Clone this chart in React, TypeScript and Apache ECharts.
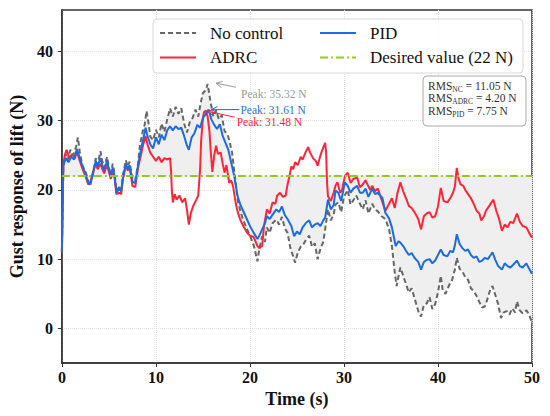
import React, { useEffect, useRef } from "react";
import * as echarts from "echarts";

const DESIRED = 22;
const X_TICKS = [0, 10, 20, 30, 40, 50];
const Y_TICKS = [0, 10, 20, 30, 40];

const NO_CONTROL: [number, number][] = [
  [0, 11], [0.15, 23.5], [0.4, 25.2], [0.6, 24.3], [0.9, 25.8], [1.2, 25], [1.5, 26.2], [1.7, 27.6], [1.9, 25.5],
  [2.2, 23.4], [2.5, 22.8], [2.8, 21.2], [3.0, 20.6], [3.3, 22.4], [3.6, 24.6], [3.8, 23.6], [4.1, 25.6], [4.3, 24.2],
  [4.5, 23.2], [4.8, 24.8], [5.0, 23.3], [5.2, 22.1], [5.4, 23.8], [5.6, 22.4], [5.8, 19.9], [6.1, 20.4], [6.3, 19.8],
  [6.5, 22.2], [6.8, 24.3], [7.0, 23.4], [7.2, 24.1], [7.5, 21.6], [7.8, 21.3], [8.1, 23.8], [8.3, 26.5], [8.6, 28.5],
  [8.8, 29.4], [9.0, 31.4], [9.2, 29.8], [9.4, 27.7], [9.7, 27.2], [10.0, 28.7], [10.3, 27.6], [10.6, 29.6], [10.9, 28.4],
  [11.2, 30.2], [11.5, 31.8], [11.8, 30.6], [12.1, 32.0], [12.4, 31.0], [12.7, 31.8], [13.0, 29.6], [13.3, 28.3], [13.6, 29.8],
  [13.9, 30.4], [14.2, 31.6], [14.5, 30.6], [14.8, 32.8], [15.0, 34.0], [15.3, 34.4], [15.5, 35.32], [15.7, 33.6], [15.9, 32.1],
  [16.1, 30.6], [16.4, 31.5], [16.7, 30.2], [17.0, 30.8], [17.3, 28.5], [17.6, 28.1], [17.8, 27.2], [18.1, 25.4], [18.4, 22.0],
  [18.7, 18.5], [19.0, 16.8], [19.3, 15.6], [19.7, 14.3], [20.0, 13.4], [20.4, 12.0], [20.8, 9.7], [21.0, 11.5], [21.3, 13.3],
  [21.6, 12.5], [21.8, 14.6], [22.1, 13.8], [22.4, 15.2], [22.8, 15.7], [23.1, 15.0], [23.4, 16.1], [23.7, 14.5], [24.0, 13.8],
  [24.3, 11.6], [24.6, 10.4], [24.8, 9.5], [25.1, 11.0], [25.4, 11.8], [25.7, 12.2], [26.0, 12.9], [26.3, 13.4], [26.6, 11.8],
  [26.9, 12.3], [27.2, 10.0], [27.5, 11.5], [27.8, 12.5], [28.0, 14.3], [28.3, 17.2], [28.6, 15.6], [28.9, 16.4], [29.1, 17.9],
  [29.4, 18.2], [29.7, 16.8], [30.0, 19.0], [30.4, 20.0], [30.7, 17.9], [31.0, 18.5], [31.3, 19.2], [31.7, 18.0], [32.0, 17.2],
  [32.3, 18.5], [32.6, 16.6], [33.0, 18.0], [33.3, 17.2], [33.6, 16.9], [34.0, 16.2], [34.4, 15.8], [34.8, 14.3], [35.1, 11.9],
  [35.4, 8.1], [35.6, 6.1], [35.8, 7.5], [36.0, 8.8], [36.3, 7.6], [36.6, 6.4], [36.9, 5.2], [37.2, 5.8], [37.5, 4.4],
  [37.9, 2.5], [38.2, 1.7], [38.5, 3.4], [38.8, 3.6], [39.1, 4.5], [39.4, 2.8], [39.7, 3.5], [40.0, 5.2], [40.3, 7.6],
  [40.5, 5.5], [40.8, 5.0], [41.2, 6.3], [41.5, 7.0], [41.8, 8.5], [42.0, 10.2], [42.3, 8.6], [42.6, 8.2], [42.9, 7.4],
  [43.2, 7.0], [43.5, 5.8], [43.8, 5.4], [44.1, 4.7], [44.4, 3.8], [44.7, 3.0], [45.0, 3.2], [45.3, 4.4], [45.6, 5.8],
  [45.8, 6.1], [46.1, 4.8], [46.4, 3.5], [46.7, 1.5], [47.0, 2.3], [47.3, 2.5], [47.6, 2.0], [47.9, 2.9], [48.2, 2.3],
  [48.4, 3.9], [48.7, 2.6], [49.0, 2.2], [49.4, 2.6], [49.7, 2.0], [50.0, 0.8],
];

const PID: [number, number][] = [
  [0, 11], [0.15, 23.5], [0.4, 24.6], [0.7, 24.0], [1.0, 24.8], [1.3, 24.4], [1.6, 25.9], [1.9, 24.6], [2.2, 23.4],
  [2.5, 22.4], [2.8, 21.0], [3.0, 20.8], [3.3, 22.2], [3.6, 24.2], [3.8, 23.4], [4.1, 24.6], [4.3, 23.6], [4.5, 22.8],
  [4.8, 24.2], [5.0, 23.0], [5.2, 22.0], [5.4, 23.2], [5.6, 22.0], [5.8, 19.6], [6.1, 20.2], [6.3, 19.8], [6.5, 21.8],
  [6.8, 23.8], [7.0, 23.0], [7.2, 23.6], [7.5, 21.2], [7.8, 21.0], [8.1, 23.6], [8.4, 25.8], [8.6, 27.0], [8.9, 29.0],
  [9.1, 27.8], [9.4, 26.6], [9.7, 26.0], [10.0, 27.6], [10.3, 26.6], [10.6, 28.0], [10.9, 27.2], [11.2, 28.6], [11.5, 29.2],
  [11.8, 28.6], [12.1, 29.2], [12.4, 28.8], [12.7, 29.0], [13.0, 27.8], [13.3, 26.4], [13.5, 25.8], [13.8, 27.6], [14.1, 28.2],
  [14.4, 29.4], [14.7, 29.0], [15.0, 30.4], [15.3, 31.0], [15.6, 31.61], [15.9, 30.2], [16.2, 29.4], [16.5, 28.8], [16.8, 29.5],
  [17.1, 27.8], [17.4, 26.8], [17.7, 25.8], [18.0, 24.0], [18.3, 22.2], [18.7, 19.0], [19.0, 17.8], [19.4, 16.6], [19.7, 15.7],
  [20.0, 14.8], [20.4, 13.8], [20.8, 12.9], [21.0, 13.4], [21.3, 14.3], [21.6, 15.2], [21.8, 16.2], [22.1, 15.8], [22.4, 16.4],
  [22.8, 17.2], [23.1, 16.8], [23.4, 17.6], [23.7, 16.4], [24.0, 15.8], [24.4, 14.8], [24.7, 13.3], [25.0, 14.0], [25.3, 13.6],
  [25.6, 14.6], [26.0, 15.3], [26.3, 15.6], [26.6, 14.6], [26.9, 15.0], [27.2, 15.2], [27.5, 14.8], [27.8, 15.6], [28.0, 16.0],
  [28.3, 18.6], [28.6, 17.2], [28.9, 17.8], [29.1, 19.9], [29.4, 19.6], [29.7, 18.4], [30.1, 21.1], [30.4, 20.6], [30.7, 19.6],
  [31.0, 20.2], [31.4, 20.6], [31.7, 19.6], [32.0, 19.6], [32.3, 20.2], [32.6, 19.0], [33.0, 20.2], [33.3, 19.4], [33.6, 19.6],
  [34.1, 18.8], [34.4, 16.7], [34.8, 15.9], [35.1, 14.6], [35.5, 11.9], [35.8, 12.6], [36.0, 12.4], [36.3, 11.9], [36.6, 11.2],
  [36.9, 10.6], [37.2, 10.9], [37.5, 10.2], [37.9, 9.6], [38.2, 8.5], [38.5, 9.6], [38.8, 9.9], [39.1, 10.0], [39.4, 9.4],
  [39.7, 9.8], [40.0, 10.6], [40.3, 11.4], [40.6, 10.6], [41.0, 10.4], [41.3, 11.2], [41.6, 11.0], [41.8, 12.0], [42.0, 13.6],
  [42.3, 12.2], [42.6, 11.6], [42.9, 11.2], [43.2, 11.4], [43.5, 10.6], [43.8, 10.2], [44.1, 10.4], [44.4, 9.6], [44.7, 9.8],
  [45.0, 10.2], [45.3, 10.0], [45.6, 10.6], [45.8, 11.0], [46.1, 9.9], [46.4, 9.0], [46.8, 8.5], [47.1, 9.4], [47.4, 9.0],
  [47.7, 8.8], [48.0, 9.2], [48.4, 9.8], [48.7, 9.0], [49.0, 8.8], [49.4, 9.4], [49.7, 8.6], [50.0, 7.9],
];

const ADRC: [number, number][] = [
  [0, 11], [0.15, 23.5], [0.3, 25.0], [0.5, 25.8], [0.8, 24.6], [1.1, 25.2], [1.4, 24.6], [1.6, 25.6], [1.9, 24.2],
  [2.2, 23.0], [2.5, 22.0], [2.8, 20.8], [3.0, 21.0], [3.3, 22.6], [3.6, 23.8], [3.8, 23.0], [4.1, 23.8], [4.3, 23.0],
  [4.5, 22.4], [4.8, 23.6], [5.0, 22.6], [5.2, 21.6], [5.4, 22.6], [5.6, 21.8], [5.8, 19.4], [6.1, 19.6], [6.3, 19.4],
  [6.5, 21.6], [6.8, 23.6], [7.0, 22.8], [7.2, 23.4], [7.5, 20.6], [7.8, 20.4], [8.1, 23.2], [8.4, 25.0], [8.6, 26.3],
  [8.9, 27.8], [9.1, 26.6], [9.4, 25.4], [9.7, 24.8], [10.0, 24.2], [10.3, 24.8], [10.6, 24.0], [10.9, 24.6], [11.2, 24.4],
  [11.5, 24.6], [11.6, 23.0], [11.7, 19.8], [11.8, 18.2], [12.0, 19.4], [12.2, 18.6], [12.5, 19.2], [12.8, 18.2], [13.1, 18.8],
  [13.3, 17.2], [13.5, 15.0], [13.7, 16.6], [14.0, 17.8], [14.3, 18.6], [14.5, 19.2], [14.7, 23.0], [14.8, 26.9], [15.0, 30.4],
  [15.1, 31.2], [15.3, 31.48], [15.5, 30.6], [15.7, 28.4], [15.8, 26.1], [16.0, 22.6], [16.2, 25.0], [16.4, 26.4], [16.6, 25.2],
  [16.9, 25.4], [17.1, 23.8], [17.3, 22.5], [17.5, 23.6], [17.8, 21.0], [18.0, 21.4], [18.2, 20.6], [18.5, 18.0], [18.7, 16.8],
  [19.0, 15.6], [19.3, 14.8], [19.7, 13.8], [20.0, 13.4], [20.4, 13.2], [20.8, 11.9], [21.0, 11.6], [21.3, 11.9], [21.5, 14.8],
  [21.8, 17.2], [22.1, 16.6], [22.4, 18.2], [22.7, 18.0], [22.9, 19.2], [23.2, 19.6], [23.5, 19.0], [23.8, 19.2], [24.0, 20.8],
  [24.2, 22.0], [24.4, 23.4], [24.6, 23.0], [24.8, 24.0], [25.1, 23.6], [25.4, 24.8], [25.6, 24.4], [25.9, 25.4], [26.2, 26.2],
  [26.4, 25.4], [26.7, 24.6], [27.0, 24.2], [27.2, 23.5], [27.5, 25.0], [27.7, 25.8], [28.0, 26.8], [28.1, 25.5], [28.2, 21.0],
  [28.3, 19.1], [28.6, 18.4], [28.9, 19.6], [29.1, 20.6], [29.3, 21.1], [29.6, 19.6], [29.8, 20.0], [30.1, 22.0], [30.4, 22.5],
  [30.7, 21.0], [31.0, 21.6], [31.4, 21.8], [31.7, 20.4], [32.0, 20.8], [32.3, 21.4], [32.5, 20.8], [32.8, 20.0], [33.0, 20.6],
  [33.3, 19.8], [33.6, 20.2], [34.1, 18.2], [34.4, 17.0], [34.8, 18.0], [35.1, 18.8], [35.4, 17.4], [35.7, 19.6], [36.0, 21.1],
  [36.3, 19.8], [36.6, 18.8], [36.9, 17.7], [37.2, 17.4], [37.5, 16.8], [37.9, 15.8], [38.2, 14.3], [38.5, 16.2], [38.8, 16.6],
  [39.1, 16.8], [39.4, 16.0], [39.7, 16.2], [40.0, 17.6], [40.3, 20.3], [40.6, 18.4], [41.0, 18.2], [41.3, 18.8], [41.6, 19.6],
  [41.8, 20.5], [42.0, 23.2], [42.2, 21.6], [42.4, 20.8], [42.7, 20.6], [42.9, 20.0], [43.2, 19.4], [43.5, 18.8], [43.8, 18.0],
  [44.1, 17.0], [44.4, 16.6], [44.6, 15.6], [44.9, 16.2], [45.1, 17.0], [45.4, 17.6], [45.7, 18.2], [45.9, 18.6], [46.2, 17.0],
  [46.5, 15.8], [46.8, 14.1], [47.1, 15.0], [47.4, 14.6], [47.7, 15.4], [48.0, 15.2], [48.4, 16.6], [48.7, 15.4], [49.0, 14.8],
  [49.4, 14.6], [49.7, 13.8], [50.0, 13.1],
];

const RMS_LABELS = ["NC", "ADRC", "PID"];
const RMS_VALUES = ["11.05", "4.20", "7.75"];
const PEAK_TEXTS = ["35.32", "31.61", "31.48"];

const SERIF = "Liberation Serif, serif";
const C_NC = "#666666";
const C_ADRC = "#ff2436";
const C_PID = "#1c6be0";
const C_DES = "#8fcc2a";

export default function App() {
  const ref = useRef<HTMLDivElement>(null);
  useEffect(() => {
    const chart = echarts.init(ref.current!, null, { renderer: "svg" });
    const lineCommon = { type: "line", showSymbol: false, symbol: "none", silent: true };
    chart.setOption({
      animation: false,
      grid: { left: 56, right: 18, top: 10, bottom: 53, show: true, borderColor: "#333", borderWidth: 1.5 },
      xAxis: {
        type: "value", min: X_TICKS[0], max: X_TICKS[X_TICKS.length - 1], interval: 10,
        name: "Time (s)", nameLocation: "middle", nameGap: 26,
        nameTextStyle: { fontFamily: SERIF, fontWeight: "bold", fontSize: 18, color: "#111" },
        axisLine: { show: true, onZero: false, lineStyle: { color: "#333", width: 1.5 } },
        axisTick: { show: true, inside: false, length: 4, lineStyle: { color: "#333" } },
        axisLabel: { fontFamily: SERIF, fontWeight: "bold", fontSize: 16, color: "#111", margin: 6 },
        splitLine: { show: true, lineStyle: { color: "#dedede", type: "dotted", width: 1 } },
      },
      yAxis: {
        type: "value", min: -5, max: 46,
        name: "Gust response of lift (N)", nameLocation: "middle", nameGap: 31,
        nameTextStyle: { fontFamily: SERIF, fontWeight: "bold", fontSize: 18, color: "#111" },
        axisLine: { show: true, onZero: false, lineStyle: { color: "#333", width: 1.5 } },
        axisTick: { show: true, inside: false, length: 4, lineStyle: { color: "#333" }, customValues: Y_TICKS },
        axisLabel: { fontFamily: SERIF, fontWeight: "bold", fontSize: 16, color: "#111", margin: 9, customValues: Y_TICKS },
        splitLine: { show: true, lineStyle: { color: "#dedede", type: "dotted", width: 1 } },
      },
      series: [
        {
          type: "custom", name: "fill", silent: true, z: 1, clip: true,
          data: [[0, DESIRED]],
          renderItem: (_params: any, api: any) => {
            const pts = NO_CONTROL.map(([t, v]) => api.coord([t, v]));
            pts.push(api.coord([NO_CONTROL[NO_CONTROL.length - 1][0], DESIRED]), api.coord([NO_CONTROL[0][0], DESIRED]));
            return { type: "polygon", shape: { points: pts }, style: { fill: "#efefef" } };
          },
        },
        { ...lineCommon, name: "No control", data: NO_CONTROL, lineStyle: { color: C_NC, width: 2, type: [5, 3] }, z: 2 },
        { ...lineCommon, name: "ADRC", data: ADRC, lineStyle: { color: C_ADRC, width: 2 }, z: 3 },
        { ...lineCommon, name: "PID", data: PID, lineStyle: { color: C_PID, width: 2 }, z: 4 },
        { ...lineCommon, name: "Desired value (22 N)", data: [[0, DESIRED], [50, DESIRED]], lineStyle: { color: C_DES, width: 2, type: [8, 3, 2, 3] }, z: 5 },
      ],
    });

    const px = (t: number, v: number) => chart.convertToPixel({ gridIndex: 0 }, [t, v]) as number[];
    const peakOf = (arr: [number, number][]) => arr.reduce((a, b) => (b[1] > a[1] ? b : a));
    const pNC = peakOf(NO_CONTROL), pPID = peakOf(PID), pADRC = peakOf(ADRC);

    const arrow = (tail: number[], head: number[], color: string) => {
      const dx = head[0] - tail[0], dy = head[1] - tail[1];
      const L = Math.hypot(dx, dy) || 1;
      const ux = dx / L, uy = dy / L, nx = -uy, ny = ux;
      return [
        { type: "line", shape: { x1: tail[0], y1: tail[1], x2: head[0], y2: head[1] }, style: { stroke: color, lineWidth: 1 }, z: 10 },
        { type: "polyline", shape: { points: [[head[0] - 6 * ux + 3 * nx, head[1] - 6 * uy + 3 * ny], head, [head[0] - 6 * ux - 3 * nx, head[1] - 6 * uy - 3 * ny]] }, style: { stroke: color, lineWidth: 1, fill: null }, z: 10 },
      ];
    };
    const hNC = px(pNC[0] + 0.9, pNC[1] + 0.1);
    const hPID = px(pPID[0] + 0.3, pPID[1]);
    const hADRC = px(pADRC[0] + 0.2, pADRC[1] - 0.1);
    const tNC = [hNC[0] + 20, hNC[1] + 4];
    const tPID = [hPID[0] + 28, hPID[1]];
    const tADRC = [hADRC[0] + 27, hADRC[1] + 6];

    const peakText = (x: number, y: number, text: string, color: string) => ({
      type: "text", x, y, z: 11,
      style: { text, fill: color, font: `11.5px ${SERIF}`, textVerticalAlign: "middle", textAlign: "left" },
    });

    const legendItems = [
      { label: "No control", color: C_NC, dash: [5, 3], x: 160, y: 33 },
      { label: "ADRC", color: C_ADRC, dash: null, x: 160, y: 57.5 },
      { label: "PID", color: C_PID, dash: null, x: 320, y: 33 },
      { label: "Desired value (22 N)", color: C_DES, dash: [8, 3, 2, 3], x: 320, y: 57.5 },
    ];
    const legend: any[] = [
      { type: "rect", shape: { x: 153, y: 19, width: 370, height: 54, r: 4 }, style: { fill: "rgba(255,255,255,0.85)", stroke: "#d8d8d8", lineWidth: 1 }, z: 20 },
    ];
    legendItems.forEach((it) => {
      legend.push({ type: "line", shape: { x1: it.x, y1: it.y, x2: it.x + 36, y2: it.y }, style: { stroke: it.color, lineWidth: 2, lineDash: it.dash || undefined }, z: 21 });
      legend.push({ type: "text", x: it.x + 50, y: it.y, z: 21, style: { text: it.label, fill: "#111", font: `17px ${SERIF}`, textVerticalAlign: "middle" } });
    });

    const rms: any[] = [
      { type: "rect", shape: { x: 423, y: 76, width: 103, height: 50, r: 4 }, style: { fill: "rgba(255,255,255,0.9)", stroke: "#aaaaaa", lineWidth: 1 }, z: 20 },
    ];
    RMS_LABELS.forEach((l, i) => {
      rms.push({
        type: "text", x: 428, y: 86 + i * 12.8, z: 21,
        style: {
          text: `{m|RMS}{s|${l}}{m| = ${RMS_VALUES[i]} N}`, fill: "#333",
          font: `11.5px ${SERIF}`, textVerticalAlign: "middle",
          rich: {
            m: { fontSize: 11.5, fontFamily: SERIF, fill: "#333", lineHeight: 11, verticalAlign: "bottom" },
            s: { fontSize: 7.5, fontFamily: SERIF, fill: "#333", lineHeight: 11, verticalAlign: "bottom", padding: [0, 0, -1.5, 0] },
          },
        },
      });
    });

    chart.setOption({
      graphic: [
        ...arrow(tNC, hNC, "#9a9a9a"),
        ...arrow(tPID, hPID, C_PID),
        ...arrow(tADRC, hADRC, C_ADRC),
        peakText(tNC[0] + 5, tNC[1] + 7, `Peak: ${PEAK_TEXTS[0]} N`, "#9a9a9a"),
        peakText(tPID[0] + 1, tPID[1] + 0.5, `Peak: ${PEAK_TEXTS[1]} N`, "#2f6fd0"),
        peakText(tADRC[0] + 2, tADRC[1] + 4.5, `Peak: ${PEAK_TEXTS[2]} N`, C_ADRC),
        ...legend,
        ...rms,
      ],
    });
    return () => chart.dispose();
  }, []);
  return <div ref={ref} style={{ position: "absolute", left: 0, top: 0, width: 550, height: 416 }} />;
}
